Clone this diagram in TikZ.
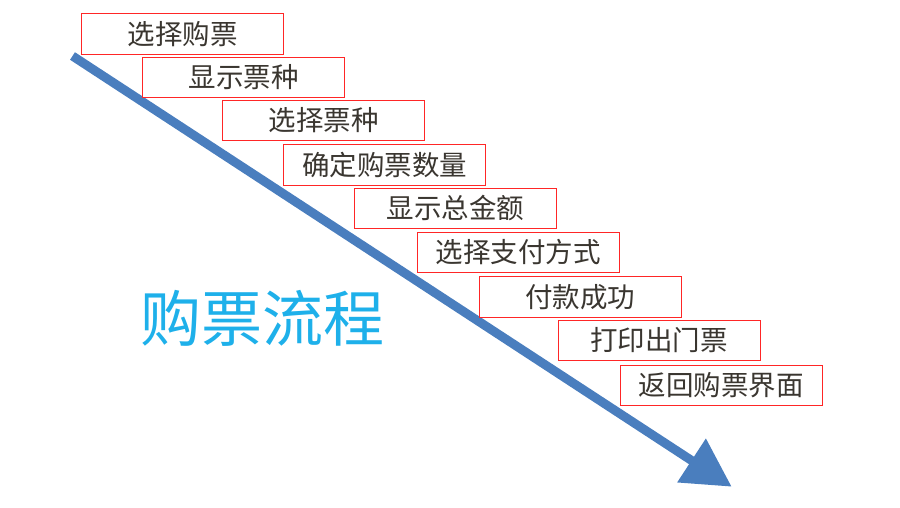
\documentclass[tikz,border=0pt]{standalone}
\usepackage{fontspec}
\newfontfamily\cjk{Noto Sans CJK SC}
\usetikzlibrary{arrows.meta}
\definecolor{boxred}{HTML}{FF2626}
\definecolor{txtgray}{HTML}{3A3630}
\definecolor{arrowblue}{HTML}{4A7EBE}
\definecolor{titleblue}{HTML}{1EB0EA}
\begin{document}
\begin{tikzpicture}[x=1pt,y=-1pt,
  stepbox/.style={draw=boxred, fill=white, line width=1.4pt, minimum width=202pt, minimum height=40.5pt,
    inner sep=0pt, anchor=north west, text=txtgray, font=\cjk\fontsize{27.5}{27.5}\selectfont},
  titletext/.style={text=titleblue, inner sep=0pt, font=\cjk\fontsize{61}{61}\selectfont},
  flowarrow/.style={draw=arrowblue, line width=9pt, -{Triangle[length=48pt,width=50pt]}}]
\useasboundingbox (0,0) rectangle (900,507);
\coordinate (s) at (72.5,56);
\coordinate (e) at (731.7,486.7);
\draw[flowarrow] (s) -- (e);
\node[stepbox] (b1) at (81,13) {选择购票};
\node[stepbox] (b2) at (142,56.5) {显示票种};
\node[stepbox] (b3) at (222,99.5) {选择票种};
\node[stepbox] (b4) at (283,144) {确定购票数量};
\node[stepbox] (b5) at (354,187.5) {显示总金额};
\node[stepbox] (b6) at (416.5,231.5) {选择支付方式};
\node[stepbox] (b7) at (478.5,276) {付款成功};
\node[stepbox] (b8) at (557.5,319.5) {打印出门票};
\node[stepbox] (b9) at (619.5,364.5) {返回购票界面};
\node[titletext] (title) at (262,318) {购票流程};
\end{tikzpicture}
\end{document}
